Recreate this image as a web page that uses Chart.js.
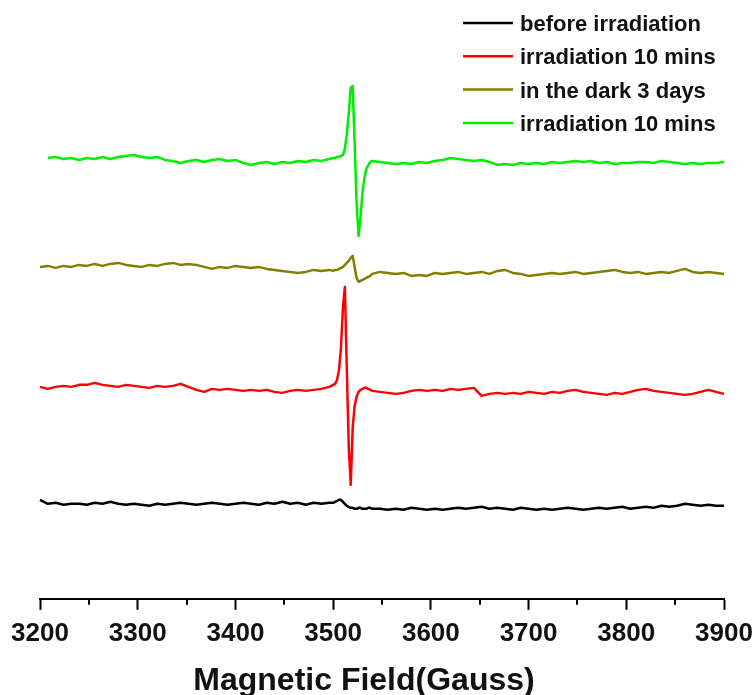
<!DOCTYPE html>
<html>
<head>
<meta charset="utf-8">
<title>EPR spectra</title>
<script src="https://cdn.jsdelivr.net/npm/chart.js@4.4.1/dist/chart.umd.min.js"></script>
<style>
  html, body { margin: 0; padding: 0; background: #fff; }
  canvas { display: block; }
</style>
</head>
<body>
<canvas id="epr-chart" width="756" height="695"></canvas>
<script>
// Magnetic field sample points (Gauss)
const field = [
  3200, 3208, 3216, 3224, 3232, 3240, 3248, 3256, 3264, 3272, 3280, 3288, 3296,
  3304, 3312, 3320, 3328, 3336, 3344, 3352, 3360, 3368, 3376, 3384, 3392, 3400,
  3408, 3416, 3424, 3432, 3440, 3448, 3456, 3464, 3472, 3480, 3488, 3496,
  3500, 3502, 3504, 3506, 3508, 3510, 3512, 3514, 3516, 3518, 3520,
  3522, 3524, 3526, 3528, 3530, 3532, 3534, 3536, 3538, 3540,
  3548, 3556, 3564, 3572, 3580, 3588, 3596, 3604, 3612, 3620, 3628, 3636,
  3644, 3652, 3660, 3668, 3676, 3684, 3692, 3700, 3708, 3716, 3724, 3732,
  3740, 3748, 3756, 3764, 3772, 3780, 3788, 3796, 3804, 3812, 3820, 3828,
  3836, 3844, 3852, 3860, 3868, 3876, 3884, 3892, 3900, 3908
];

// Signal intensity (a.u., traces stacked)
const beforeIrradiation = [
  98, 94, 95, 93, 94, 94, 93, 95, 94, 96, 94, 93, 94,
  93, 92, 94, 93, 94, 95, 94, 93, 94, 95, 94, 93, 94,
  95, 94, 93, 95, 94, 96, 94, 95, 93, 95, 94, 95,
  95, 96, 97, 98, 98, 96, 94, 92, 91, 90, 90,
  89, 89, 90, 90, 89, 89, 89, 90, 90, 89,
  89, 88, 89, 88, 90, 89, 88, 89, 88, 89, 90, 89,
  90, 91, 89, 90, 89, 88, 90, 89, 88, 89, 88, 89,
  90, 89, 88, 89, 90, 89, 90, 91, 89, 90, 91, 90,
  92, 91, 92, 94, 93, 92, 93, 92, 92, null
];

const irradiation10 = [
  211, 209, 211, 212, 211, 213, 213, 215, 213, 212, 211, 213, 212,
  211, 210, 212, 211, 212, 214, 211, 208, 206, 209, 208, 209, 208,
  207, 208, 207, 208, 206, 205, 207, 208, 207, 208, 209, 211,
  213, 214, 218, 228, 250, 290, 311, 228, 150, 113, 170,
  192, 201, 206, 208, 209, 210, 210, 209, 208, 207,
  206, 205, 204, 205, 207, 208, 207, 208, 207, 209, 208, 209,
  210, 202, 204, 205, 204, 205, 204, 206, 205, 204, 206, 205,
  207, 208, 206, 205, 204, 203, 205, 204, 206, 208, 209, 207,
  206, 205, 204, 203, 204, 206, 208, 206, 204, null
];

const darkThreeDays = [
  331, 332, 330, 332, 331, 333, 332, 334, 332, 334, 335, 333, 332,
  331, 333, 332, 334, 335, 333, 334, 333, 331, 329, 331, 330, 332,
  331, 330, 331, 329, 328, 327, 326, 325, 326, 328, 327, 328,
  327, 328, 328, 329, 330, 331, 333, 335, 337, 340, 342,
  331, 320, 316, 317, 318, 319, 320, 321, 322, 324,
  326, 325, 324, 325, 322, 323, 322, 325, 324, 325, 326, 324,
  325, 326, 324, 327, 328, 325, 324, 322, 323, 324, 325, 324,
  325, 326, 324, 325, 326, 327, 328, 326, 325, 326, 324, 325,
  326, 325, 327, 329, 326, 325, 326, 325, 324, null
];

const irradiation10Again = [
  null, 440, 441, 439, 440, 438, 440, 439, 441, 439, 441, 442, 443,
  441, 440, 441, 438, 437, 435, 437, 438, 436, 438, 439, 437, 438,
  435, 433, 435, 436, 434, 436, 435, 437, 436, 438, 437, 439,
  440, 440, 441, 441, 442, 443, 449, 464, 485, 510, 512,
  455, 395, 362, 380, 405, 420, 429, 433, 436, 437,
  436, 435, 434, 435, 434, 436, 435, 437, 438, 440, 439, 438,
  437, 438, 436, 433, 434, 433, 435, 434, 435, 434, 436, 435,
  436, 437, 436, 437, 435, 436, 434, 435, 435, 436, 436, 435,
  437, 436, 435, 434, 435, 434, 435, 435, 436, null
];

const seriesLabels = [
  "before irradiation",
  "irradiation 10 mins",
  "in the dark 3 days",
  "irradiation 10 mins"
];
const seriesColors = ["#000000", "#ff0000", "#808000", "#00ee00"];
const seriesValues = [beforeIrradiation, irradiation10, darkThreeDays, irradiation10Again];

const majorTicks = [3200, 3300, 3400, 3500, 3600, 3700, 3800, 3900];
const minorTicks = [3250, 3350, 3450, 3550, 3650, 3750, 3850];

const FONT = "'Liberation Sans', Arial, sans-serif";

// small tick marks between the labelled ones
const minorTickPlugin = {
  id: "minorTicks",
  afterDraw(chart) {
    const xs = chart.scales.x;
    const ctx = chart.ctx;
    ctx.save();
    ctx.strokeStyle = "#000";
    ctx.lineWidth = 2;
    minorTicks.forEach((v) => {
      const px = Math.round(xs.getPixelForValue(v));
      ctx.beginPath();
      ctx.moveTo(px, xs.top);
      ctx.lineTo(px, xs.top + 6);
      ctx.stroke();
    });
    ctx.restore();
  }
};

// legend in the top right corner, one row per spectrum
const cornerLegend = {
  id: "cornerLegend",
  afterDraw(chart) {
    const ctx = chart.ctx;
    ctx.save();
    ctx.font = "bold 22px " + FONT;
    ctx.textBaseline = "alphabetic";
    chart.data.datasets.forEach((ds, i) => {
      const y = 23 + i * 33.3;
      ctx.strokeStyle = ds.borderColor;
      ctx.lineWidth = 2.5;
      ctx.beginPath();
      ctx.moveTo(463, y);
      ctx.lineTo(513, y);
      ctx.stroke();
      ctx.fillStyle = "#111";
      ctx.fillText(ds.label, 520, y + 8);
    });
    ctx.restore();
  }
};

// axis title, sits a little left of centre
const axisTitle = {
  id: "axisTitle",
  afterDraw(chart) {
    const ctx = chart.ctx;
    const area = chart.chartArea;
    ctx.save();
    ctx.font = "bold 32px " + FONT;
    ctx.fillStyle = "#111";
    ctx.textAlign = "center";
    ctx.textBaseline = "alphabetic";
    ctx.fillText("Magnetic Field(Gauss)", (area.left + area.right) / 2 - 18, 690);
    ctx.restore();
  }
};

const datasets = seriesValues.map((values, i) => ({
  label: seriesLabels[i],
  data: field.map((x, j) => ({ x: x, y: values[j] })),
  borderColor: seriesColors[i],
  borderWidth: 2.5,
  pointRadius: 0,
  tension: 0,
  borderJoinStyle: "round",
  clip: false
}));

new Chart(document.getElementById("epr-chart"), {
  type: "line",
  data: { datasets: datasets },
  options: {
    responsive: false,
    animation: false,
    layout: { padding: { top: 0, left: 40, right: 32, bottom: 38 } },
    plugins: {
      legend: { display: false },
      tooltip: { enabled: false }
    },
    scales: {
      x: {
        type: "linear",
        min: 3200,
        max: 3900,
        afterBuildTicks: (scale) => {
          scale.ticks = majorTicks.map((v) => ({ value: v }));
        },
        // edge labels may hang past the plot; the layout padding leaves room
        afterFit: (scale) => {
          scale.paddingLeft = 0;
          scale.paddingRight = 0;
        },
        ticks: {
          color: "#111",
          padding: 8,
          font: { family: FONT, size: 26, weight: "bold" },
          callback: (value) => String(value)
        },
        grid: {
          drawOnChartArea: false,
          drawTicks: true,
          tickLength: 11,
          tickColor: "#000",
          tickWidth: 2
        },
        border: { display: true, color: "#000", width: 2 }
      },
      y: {
        display: false,
        min: -1,
        max: 598
      }
    }
  },
  plugins: [minorTickPlugin, cornerLegend, axisTitle]
});
</script>
</body>
</html>
